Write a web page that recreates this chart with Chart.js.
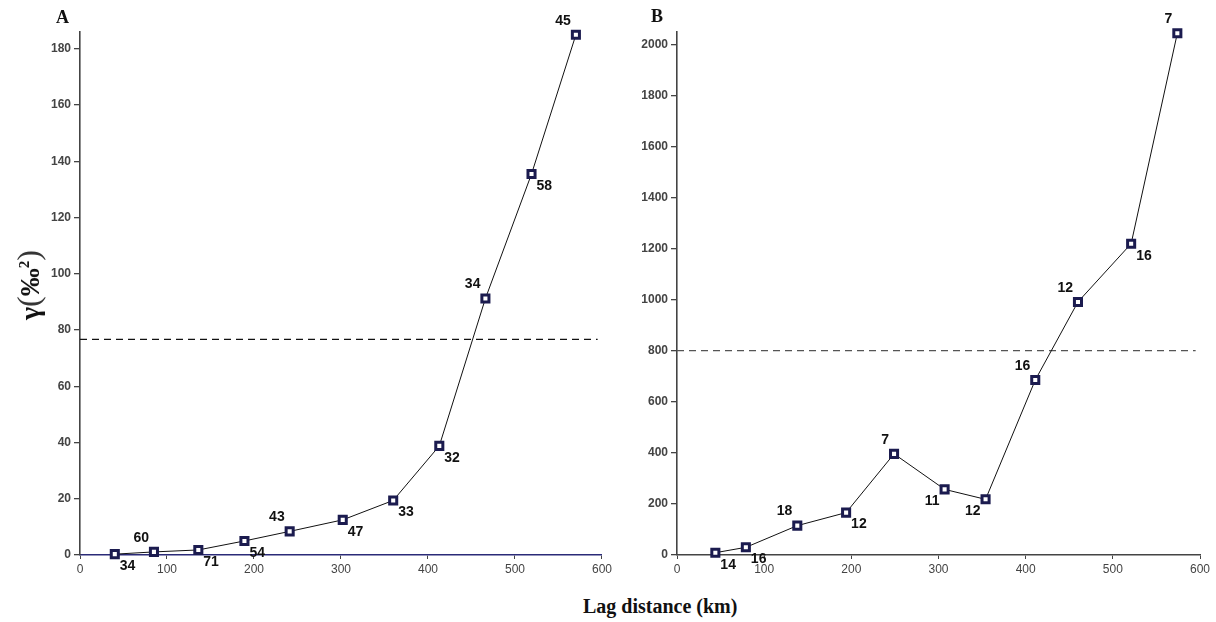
<!DOCTYPE html>
<html>
<head>
<meta charset="utf-8">
<script src="https://cdn.jsdelivr.net/npm/chart.js"></script>
<style>
body{margin:0;background:#fff;width:1216px;height:622px;overflow:hidden;position:relative;font-family:"Liberation Sans",Arial,sans-serif;}
.wrap{position:absolute;top:0;height:590px;}
#wrapA{left:0;width:615px;}
#wrapB{left:600px;width:616px;}
.txt{position:absolute;font-family:"Liberation Serif","Times New Roman",serif;font-weight:bold;color:#111;white-space:nowrap;line-height:1;}
#letterA{left:56px;top:8px;font-size:18px;}
#letterB{left:651px;top:7px;font-size:18px;}
#xTitle{left:583px;top:596px;font-size:20px;}
#yTitle{left:28px;top:285px;font-size:28px;transform:translate(-50%,-50%) rotate(-90deg);}
#yTitle .par{font-weight:normal;font-size:32px;color:#333;}
</style>
</head>
<body>
<div class="wrap" id="wrapA"><canvas id="chartA"></canvas></div>
<div class="wrap" id="wrapB"><canvas id="chartB"></canvas></div>
<div class="txt" id="letterA">A</div>
<div class="txt" id="letterB">B</div>
<div class="txt" id="xTitle">Lag distance (km)</div>
<div class="txt" id="yTitle">γ<span class="par">(</span>‰<sup style="font-size:15px">2</sup><span class="par">)</span></div>
<script>
// panel A
const lagA = [40, 85, 136, 189, 241, 302, 360, 413, 466, 519, 570];
const gammaA = [0.3, 1.1, 1.8, 5.0, 8.4, 12.5, 19.4, 38.8, 91.2, 135.5, 185];
const pairsA = [34, 60, 71, 54, 43, 47, 33, 32, 34, 58, 45];
const sillA = 76.7;
const yTicksA = [0, 20, 40, 60, 80, 100, 120, 140, 160, 180];

// panel B
const lagB = [44, 79, 138, 194, 249, 307, 354, 411, 460, 521, 574];
const gammaB = [9, 30, 115, 166, 396, 257, 218, 685, 991, 1219, 2043];
const pairsB = [14, 16, 18, 12, 7, 11, 12, 16, 12, 16, 7];
const sillB = 800;
const yTicksB = [0, 200, 400, 600, 800, 1000, 1200, 1400, 1600, 1800, 2000];

const xTicks = [0, 100, 200, 300, 400, 500, 600];

// where each pair count sits around its point
const placeA = ['br','al','br','br','al','br','br','br','al','br','al'];
const placeB = ['br','br','al','br','al','bl','bl','al','al','br','al'];

const pointLabels = {
    id: 'pointLabels',
    afterDatasetsDraw(chart, args, opts){
        const meta = chart.getDatasetMeta(0);
        const ctx = chart.ctx;
        ctx.save();
        ctx.font = 'bold 14px "Liberation Sans", Arial, sans-serif';
        ctx.fillStyle = '#111';
        ctx.textBaseline = 'middle';
        meta.data.forEach((pt, i) => {
            const p = opts.place[i];
            let x = pt.x, y = pt.y;
            if(p == 'br'){ ctx.textAlign = 'left'; x += 5; y += 12; }
            else if(p == 'bl'){ ctx.textAlign = 'right'; x -= 5; y += 12; }
            else { ctx.textAlign = 'right'; x -= 5; y -= 14; }
            ctx.fillText(String(opts.labels[i]), x, y);
        });
        ctx.restore();
    }
};

function makeChart(id, lag, gamma, pairs, place, sill, yMax, yTicks, yWidth, padRight, xColor, sillColor){
    const ctx = document.getElementById(id).getContext('2d');
    return new Chart(ctx, {
        type: 'line',
        data: {
            datasets: [{
                data: lag.map((x, i) => ({x: x, y: gamma[i]})),
                borderColor: '#111',
                borderWidth: 1,
                pointStyle: 'rect',
                pointRadius: 5,
                pointBorderWidth: 3,
                pointBorderColor: '#1b1b4f',
                pointBackgroundColor: '#fff',
                clip: false
            },{
                data: [{x: 0, y: sill}, {x: 595, y: sill}],
                borderColor: sillColor,
                borderWidth: 1.3,
                borderDash: [7, 5],
                pointRadius: 0,
                clip: false
            }]
        },
        options: {
            responsive: true,
            maintainAspectRatio: false,
            animation: false,
            layout: { padding: { top: 32, right: padRight, left: 0, bottom: 0 } },
            plugins: {
                legend: { display: false },
                tooltip: { enabled: false },
                pointLabels: { labels: pairs, place: place }
            },
            scales: {
                x: {
                    type: 'linear',
                    min: 0,
                    max: 600,
                    afterBuildTicks: s => { s.ticks = xTicks.map(v => ({value: v})); },
                    afterFit: s => { s.height = 35; },
                    grid: { drawOnChartArea: false, tickLength: 4, tickColor: '#444', lineWidth: 1 },
                    border: { color: xColor, width: 1.6 },
                    ticks: { color: '#444', padding: 3, callback: v => String(v), font: { size: 12, family: '"Liberation Sans", Arial' } }
                },
                y: {
                    min: 0,
                    max: yMax,
                    afterBuildTicks: s => { s.ticks = yTicks.map(v => ({value: v})); },
                    afterFit: s => { s.width = yWidth; },
                    grid: { drawOnChartArea: false, tickLength: 6, tickColor: '#444', lineWidth: 1.3 },
                    border: { color: '#444', width: 1.6 },
                    ticks: { color: '#444', padding: 3, autoSkip: false, callback: v => String(v), font: { size: 12, weight: 'bold', family: '"Liberation Sans", Arial' } }
                }
            }
        },
        plugins: [pointLabels]
    });
}

makeChart('chartA', lagA, gammaA, pairsA, placeA, sillA, 186, yTicksA, 80, 12, '#2b2b78', '#111');
makeChart('chartB', lagB, gammaB, pairsB, placeB, sillB, 2048, yTicksB, 77, 16, '#444', '#555');
</script>
</body>
</html>
